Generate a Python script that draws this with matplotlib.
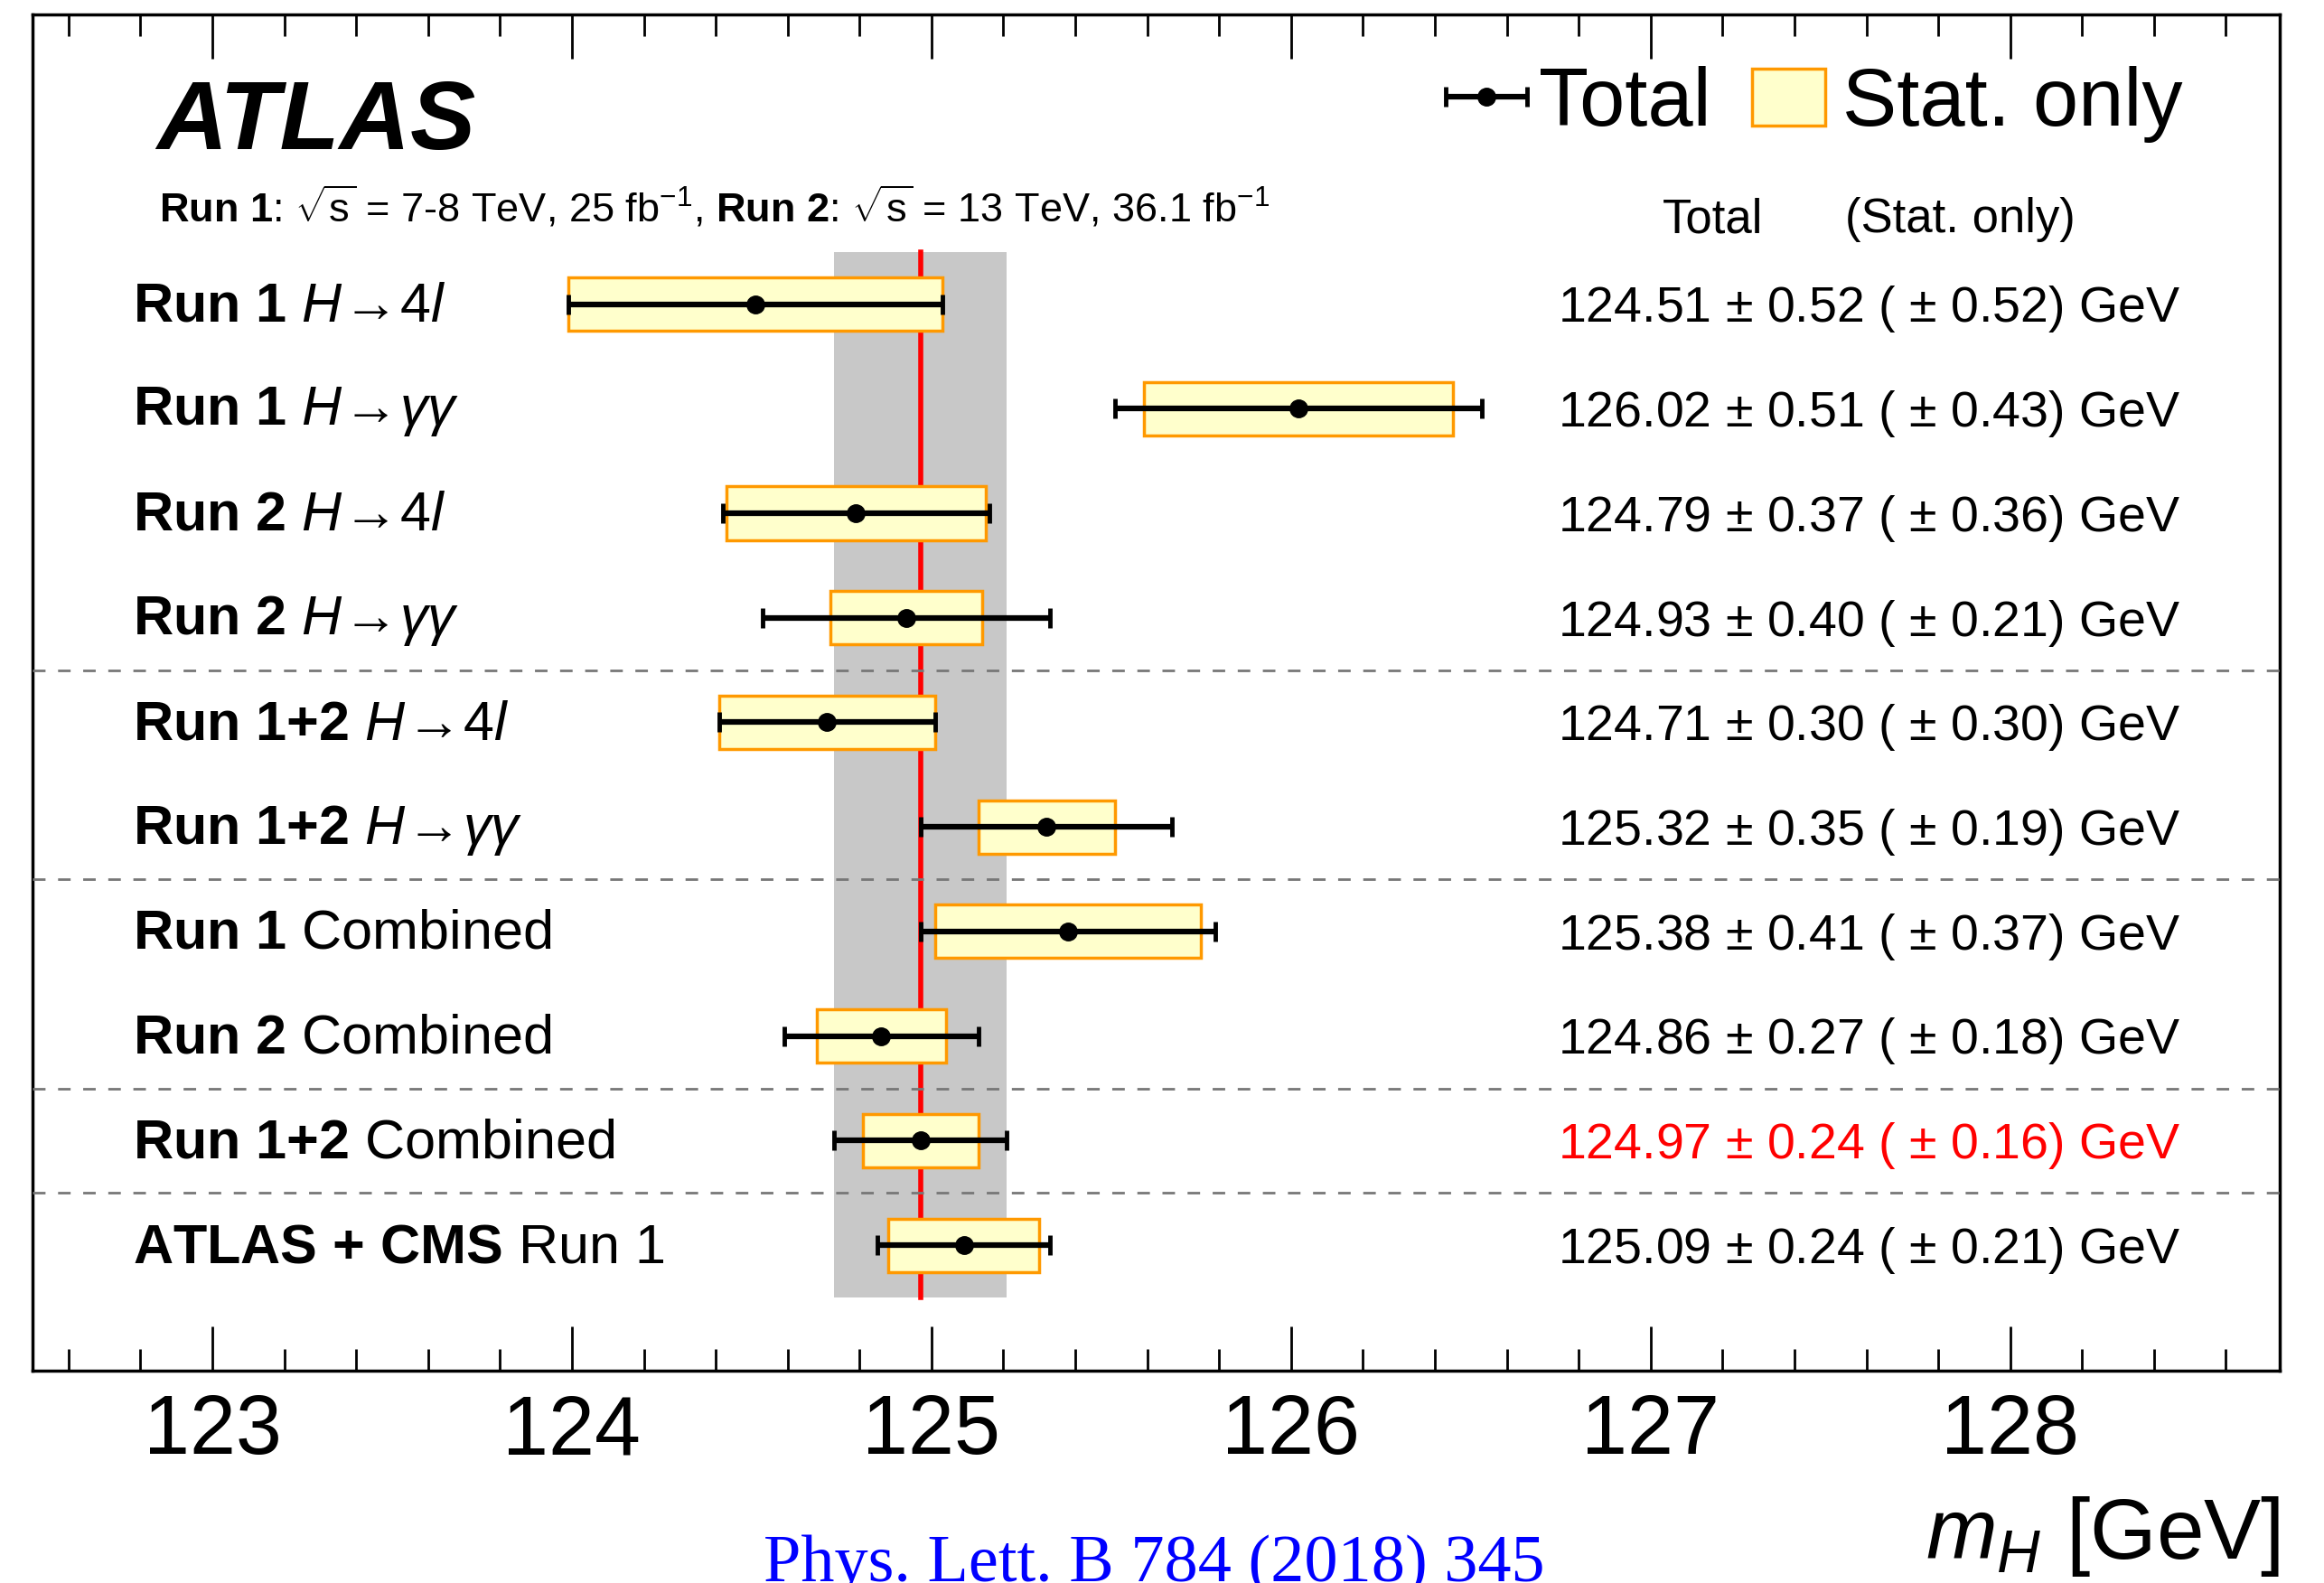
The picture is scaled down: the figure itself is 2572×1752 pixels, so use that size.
import matplotlib
matplotlib.use("Agg")
import matplotlib.pyplot as plt
from matplotlib.patches import Patch
from matplotlib.ticker import MultipleLocator

plt.rcParams['font.family'] = ['Liberation Sans', 'DejaVu Sans']
plt.rcParams['mathtext.fontset'] = 'custom'
plt.rcParams['mathtext.rm'] = 'Liberation Sans'
plt.rcParams['mathtext.it'] = 'Liberation Sans:italic'
plt.rcParams['mathtext.bf'] = 'Liberation Sans:bold'

# measurements, top to bottom
run_labels = ["Run 1", "Run 1", "Run 2", "Run 2", "Run 1+2", "Run 1+2",
              "Run 1", "Run 2", "Run 1+2", "ATLAS + CMS"]
channels = [r"$H\!\rightarrow\!4l$", r"$H\!\rightarrow\!\gamma\gamma$",
            r"$H\!\rightarrow\!4l$", r"$H\!\rightarrow\!\gamma\gamma$",
            r"$H\!\rightarrow\!4l$", r"$H\!\rightarrow\!\gamma\gamma$",
            "Combined", "Combined", "Combined", "Run 1"]
mass = [124.51, 126.02, 124.79, 124.93, 124.71, 125.32, 125.38, 124.86, 124.97, 125.09]
err_total = [0.52, 0.51, 0.37, 0.40, 0.30, 0.35, 0.41, 0.27, 0.24, 0.24]
err_stat = [0.52, 0.43, 0.36, 0.21, 0.30, 0.19, 0.37, 0.18, 0.16, 0.21]
separators = [3.5, 5.5, 7.5, 8.5]
ref_index = 8  # Run 1+2 combined result


def bold_math(s):
    # bold mathtext without the extra spacing around "+"
    return r"$\mathbf{" + s.replace(" ", r"\ ").replace("+", "{+}") + "}$"


fig = plt.figure(figsize=(25.72, 17.52), dpi=100)
ax = fig.add_axes([0.014, 0.1341, 0.967, 0.8568])

ys = list(range(len(mass)))
m0, e0 = mass[ref_index], err_total[ref_index]

# combined result band and central value
ax.fill_betweenx([-0.5, 9.5], m0 - e0, m0 + e0, color='#c8c8c8', lw=0, zorder=0.5)
ax.plot([m0, m0], [-0.5, 9.5], color='red', lw=4, zorder=1)

# stat-only boxes
ax.barh(ys, [2 * s for s in err_stat], left=[m - s for m, s in zip(mass, err_stat)],
        height=0.51, color='#ffffcc', edgecolor='#ff9900', linewidth=2.5, zorder=2)

# total uncertainty
eb = ax.errorbar(mass, ys, xerr=err_total, fmt='o', color='black', ms=14,
                 elinewidth=4.5, capsize=8, capthick=3.5, zorder=3)

for yy in separators:
    ax.axhline(yy, color='#777777', lw=2, ls=(0, (5, 5)), zorder=4)

for i in ys:
    ax.text(122.78, i + 0.03, bold_math(run_labels[i]) + " " + channels[i],
            fontsize=44, va='center', ha='left')
    col = 'red' if i == ref_index else 'black'
    ax.text(126.742, i + 0.05,
            f"{mass[i]:.2f} $\\pm$ {err_total[i]:.2f} ( $\\pm$ {err_stat[i]:.2f}) GeV",
            fontsize=40, va='center', ha='left', color=col)

ax.text(0.055, 0.9007, "ATLAS", transform=ax.transAxes, fontsize=78,
        fontweight='bold', fontstyle='italic', va='baseline')
ax.text(0.0563, 0.8474,
        r"$\mathbf{Run\ 1}$: $\sqrt{\mathrm{s}}$ = 7-8 TeV, 25 fb$^{-1}$, "
        r"$\mathbf{Run\ 2}$: $\sqrt{\mathrm{s}}$ = 13 TeV, 36.1 fb$^{-1}$",
        transform=ax.transAxes, fontsize=32.5, va='baseline')
ax.text(0.7254, 0.8394, "Total", transform=ax.transAxes, fontsize=38, va='baseline')
ax.text(0.8066, 0.8394, "(Stat. only)", transform=ax.transAxes, fontsize=38, va='baseline')

ax.legend([eb, Patch(facecolor='#ffffcc', edgecolor='#ff9900', linewidth=2.5)],
          ["Total", "Stat. only"], loc='upper left', bbox_to_anchor=(0.6305, 0.962),
          ncol=2, frameon=False, fontsize=65, borderpad=0, borderaxespad=0,
          handletextpad=0.2, columnspacing=0.5, handlelength=0.9)

ax.set_xlim(122.5, 128.75)
ax.set_ylim(10.2, -2.77)
ax.set_yticks([])
ax.xaxis.set_major_locator(MultipleLocator(1))
ax.xaxis.set_minor_locator(MultipleLocator(0.2))
ax.tick_params(axis='x', which='both', direction='in', top=True, bottom=True,
               width=2, labelsize=66, pad=18)
ax.tick_params(axis='x', which='major', length=35)
ax.tick_params(axis='x', which='minor', length=17)
for sp in ax.spines.values():
    sp.set_linewidth(2.5)

ax.set_xlabel(r"$m_{H}$ [GeV]", fontsize=68, loc='right')
ax.xaxis.set_label_coords(1.0, -0.1386)
ax.xaxis.label.set_va('baseline')

fig.text(845 / 2572, 1 - 1750 / 1752, "Phys. Lett. B 784 (2018) 345", color='blue',
         fontsize=53.5, family='Liberation Serif', va='baseline', ha='left')

fig.savefig('out.png', dpi=100)
